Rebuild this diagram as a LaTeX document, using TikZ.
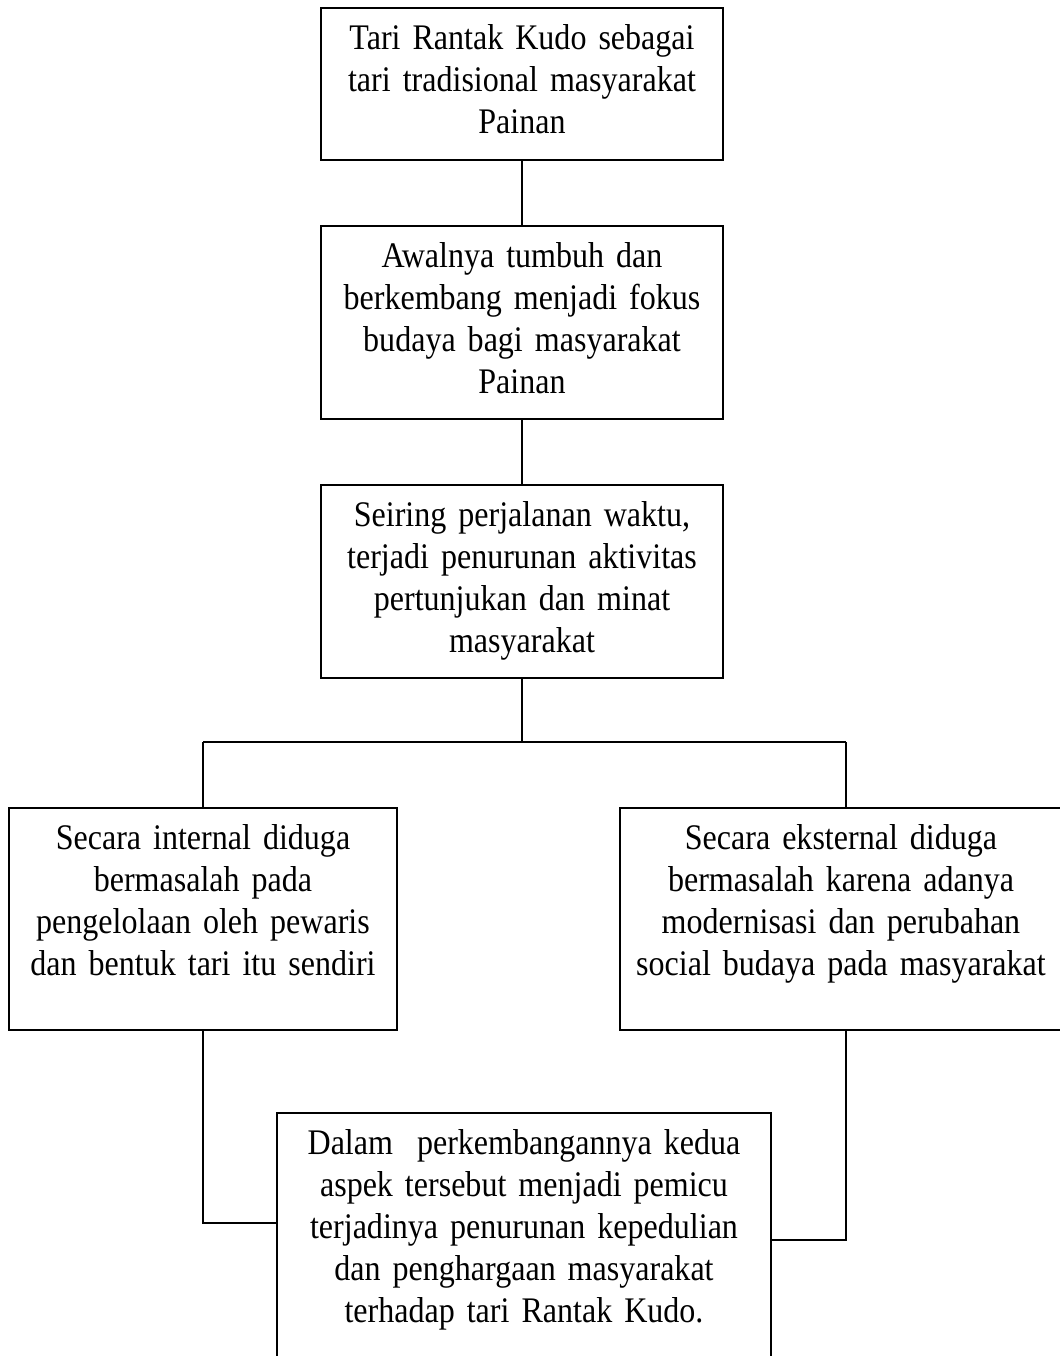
\documentclass[tikz,border=0pt]{standalone}
\usepackage{fontspec}
\setmainfont{Liberation Serif}[FakeStretch=0.89, WordSpace=0.85]
\begin{document}
\begin{tikzpicture}[x=0.5pt, y=-0.5pt,
    box/.style={draw, line width=1pt, align=center, anchor=north,
      inner xsep=2pt, inner ysep=8pt, text height=12.5pt,
      font=\fontsize{18}{21}\selectfont},
    link/.style={line width=1pt}]
  \def\Xm{522}; % middle column
  \def\Xl{203}; % left branch
  \def\Xr{846}; % right branch
  \def\Yc{742}; % fork
  \useasboundingbox (0,0) rectangle (1060,1356);
  \clip (0,0) rectangle (1060,1356);

  % middle column
  \node[box, text width=197pt, text depth=47.5pt] (tari) at (\Xm, 7)
    {Tari Rantak Kudo sebagai\\tari tradisional masyarakat\\Painan};
  \node[box, text width=197pt, text depth=68pt] (awal) at (\Xm, 225)
    {Awalnya tumbuh dan\\berkembang menjadi fokus\\budaya bagi masyarakat\\Painan};
  \node[box, text width=197pt, text depth=68pt] (turun) at (\Xm, 484)
    {Seiring perjalanan waktu,\\terjadi penurunan aktivitas\\pertunjukan dan minat\\masyarakat};

  % the two causes
  \node[box, text width=190pt, text depth=82.5pt] (internal) at (\Xl, 807)
    {Secara internal diduga\\bermasalah pada\\pengelolaan oleh pewaris\\dan bentuk tari itu sendiri};
  \node[box, text width=217pt, text depth=82.5pt] (eksternal) at (841, 807)
    {Secara eksternal diduga\\bermasalah karena adanya\\modernisasi dan perubahan\\social budaya pada masyarakat};

  % result (runs off the page)
  \node[box, text width=243pt, text depth=150pt] (akhir) at (524, 1112)
    {Dalam\ \ perkembangannya kedua\\aspek tersebut menjadi pemicu\\terjadinya penurunan kepedulian\\dan penghargaan masyarakat\\terhadap tari Rantak Kudo.};

  % connectors
  \draw[link] (tari) -- (awal);
  \draw[link] (awal) -- (turun);
  \coordinate (cabang) at (\Xm, \Yc);
  \coordinate (ki) at (\Xl, \Yc);
  \coordinate (ka) at (\Xr, \Yc);
  \draw[link] (turun.south) -- (cabang);
  \draw[link] (ki) -- (ka);
  \draw[link] (ki) -- (internal.north);
  \draw[link] (ka) -- (ka |- eksternal.north);

  \coordinate (sikuL) at (\Xl, 1223);
  \coordinate (sikuR) at (\Xr, 1240);
  \draw[link] (internal.south) -- (sikuL) -- (sikuL -| akhir.west);
  \draw[link] (ka |- eksternal.south) -- (sikuR) -- (sikuR -| akhir.east);
\end{tikzpicture}
\end{document}
